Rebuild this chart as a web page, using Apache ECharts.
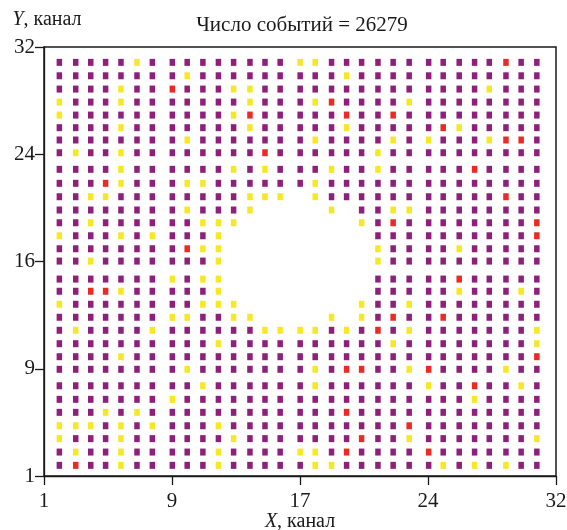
<!DOCTYPE html>
<html>
<head>
<meta charset="utf-8">
<script src="https://cdn.jsdelivr.net/npm/echarts@6/dist/echarts.min.js"></script>
<style>
  html, body { margin: 0; padding: 0; background: #fff; }
  #chart { width: 567px; height: 530px; }
</style>
</head>
<body>
<div id="chart"></div>
<script>
// Hit map of the detector: every cell is one pixel, coloured by its count class.
const titleText = 'Число событий = 26279';

// Cell centres in channel units (columns left to right, rows top to bottom)
const colX = [1.93, 2.92, 3.83, 4.73, 5.66, 6.63, 7.56, 8.77, 9.67, 10.62, 11.56,
  12.48, 13.47, 14.38, 15.30, 16.51, 17.42, 18.41, 19.32, 20.23, 21.22, 22.14,
  23.11, 24.29, 25.17, 26.14, 27.07, 27.96, 28.97, 29.89, 30.84];
const rowY = [30.89, 29.92, 28.96, 28.02, 27.08, 26.17, 25.28, 24.36, 23.16, 22.15,
  21.18, 20.22, 19.30, 18.36, 17.42, 16.53, 15.23, 14.35, 13.41, 12.47, 11.53,
  10.56, 9.62, 8.71, 7.52, 6.54, 5.60, 4.63, 3.70, 2.73, 1.77];

// Count class per cell: P = normal, Y = low, R = high, . = no data
const cellRows = [
  'PPPPPYPPPPPPPPPYYPPPPPPPPPPPRPP',
  'PPPPPPPPYPPPPPPPPPYPPPPPPPPPPPP',
  'PPPPYPPRPPPYYPPPPPPPPPPPPPPYPPP',
  'YPPPYPPPPPPPYPPPYRPPPPYPPPPPPPP',
  'YPPPPPPPPPPYRPPPPPRPPRPPPPPPPPP',
  'PPPPYPPPPPPPYPPPPPYPPPPPRYPPPPP',
  'PPPPPPPPYPPPPPPPYPPPPYPYPPPYRRP',
  'PYPPYPPPPPPPPRPPPPPPYPPPPPPPPPP',
  'PPPPYPPPPPPYPYPPPYPPYPPPPPRPPPP',
  'PPPRYPPPYYPPPPPPYPPPPPPPPPPPPPP',
  'PPYYPPPPPPPPYYY.YPPPPPPPPPPPRPP',
  'PPPPPPPPYPPPY....Y.PPYYPPPPPPPP',
  'PPYPPPPPPYYY.......YPRPPPPPPPPR',
  'YPPPYPYPPPY.........PPPPPPPPPPR',
  'PPPPPPPPRYY.........YPPPPYPPPPP',
  'PPYPPPPPPPY.........YPPPPPPPPPP',
  'PPPPPPPYPYY.........PPPPPRPPPPP',
  'PPRRYPPPPPY.........PPPPPYPPPYP',
  'YPPPPPPPPYYY.......YPPYPPPPPPPP',
  'PPPPPPPYYPPYY....Y.YPRPPRPPPPPP',
  'PYPPPPYPPPPPPYYYYPYPRPYPPPPPPPY',
  'PPPPPPPPPPYPPPPPPPPPPYPPPPPPPPY',
  'PPPPYPPPPPPPPPPPPPPPPPPPPPPPPPR',
  'PPPPPPPPYPPPPPPPYPRRPPYRPPPPYPP',
  'PPPPPPPPPYPPPPPPYPPPPPPYPPRPPYP',
  'PPPPPPPYPPPPPPPPPPPPPPPPPPYPPPP',
  'PPPYPYPPPPPPPPPPPPRPPPPPPPPPPPP',
  'YYYPYPYPPPYPPPPPPPPPPPRPPPPPPPP',
  'YPPPYPPPPPPYPPPPPPPRPPYPPPPPPPY',
  'PYPPYPPPPPYPPPPYYPRPPPPRPPPPPPP',
  'PRPPYPPPPPYPPPPPYYPPPPPPYPYPYPP'
];

// Tick positions (quarters of the 1..32 range) and their printed labels
const tickAt = [1, 8.75, 16.5, 24.25, 32];
const xTickText = ['1', '9', '17', '24', '32'];
const yTickText = ['1', '9', '16', '24', '32'];

const classColor = { P: '#8e1f7b', Y: '#f7e825', R: '#ec2a25' };
const classOrder = ['P', 'Y', 'R'];

function pointsOf(cls) {
  const out = [];
  cellRows.forEach(function (row, r) {
    for (let c = 0; c < row.length; c++) {
      if (row[c] === cls) out.push([colX[c], rowY[r]]);
    }
  });
  return out;
}

function tickLabel(texts) {
  return function (v) {
    const i = tickAt.findIndex(function (t) { return Math.abs(t - v) < 1e-6; });
    return i >= 0 ? texts[i] : '';
  };
}

const serif = '"Liberation Serif", "DejaVu Serif", serif';
const ink = '#1a1a1a';
const axisLineStyle = { color: ink, width: 1.3 };

const chart = echarts.init(document.getElementById('chart'), null, { renderer: 'canvas' });
chart.setOption({
  animation: false,
  backgroundColor: '#fff',
  title: {
    text: titleText,
    left: 297,
    top: 10,
    textAlign: 'center',
    textStyle: { fontFamily: serif, fontSize: 21, fontWeight: 'normal', color: ink }
  },
  grid: {
    left: 44, right: 11, top: 47, bottom: 54,
    containLabel: false,
    outerBoundsMode: 'none',
    show: true, borderColor: ink, borderWidth: 1.5, backgroundColor: 'transparent'
  },
  xAxis: {
    type: 'value', min: 1, max: 32,
    name: '{i|X}, канал',
    nameLocation: 'middle',
    nameGap: 36,
    nameMoveOverlap: false,
    nameTextStyle: {
      fontFamily: serif, fontSize: 20, color: ink, lineHeight: 20,
      rich: { i: { fontFamily: serif, fontStyle: 'italic', fontSize: 20, color: ink, lineHeight: 20 } }
    },
    axisLine: { show: true, lineStyle: axisLineStyle },
    axisTick: { show: true, inside: false, length: 9, customValues: tickAt, lineStyle: axisLineStyle },
    axisLabel: {
      customValues: tickAt, formatter: tickLabel(xTickText), margin: 15,
      fontFamily: serif, fontSize: 21, color: ink
    },
    splitLine: { show: false }
  },
  yAxis: {
    type: 'value', min: 1, max: 32,
    name: '{i|Y}, канал',
    nameLocation: 'end',
    nameGap: 17,
    nameMoveOverlap: false,
    nameTextStyle: {
      fontFamily: serif, fontSize: 20, color: ink, align: 'center', padding: [0, 0, 0, 6],
      rich: { i: { fontFamily: serif, fontStyle: 'italic', fontSize: 20, color: ink } }
    },
    axisLine: { show: true, lineStyle: axisLineStyle },
    axisTick: { show: true, inside: false, length: 9, customValues: tickAt, lineStyle: axisLineStyle },
    axisLabel: {
      customValues: tickAt, formatter: tickLabel(yTickText), margin: 9,
      fontFamily: serif, fontSize: 21, color: ink
    },
    splitLine: { show: false }
  },
  series: classOrder.map(function (cls) {
    return {
      type: 'scatter',
      name: cls,
      symbol: 'rect',
      symbolSize: [5.5, 7],
      itemStyle: { color: classColor[cls], opacity: 1 },
      emphasis: { disabled: true },
      data: pointsOf(cls)
    };
  })
});
</script>
</body>
</html>
